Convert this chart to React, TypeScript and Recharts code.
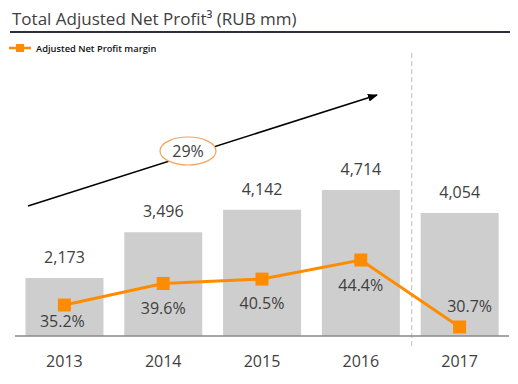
import {
  ComposedChart,
  Bar,
  Line,
  XAxis,
  YAxis,
  LabelList,
  ReferenceLine,
} from "recharts";

const years = ["2013", "2014", "2015", "2016", "2017"];
const netProfit = [2173, 3496, 4142, 4714, 4054];
const margin = [35.2, 39.6, 40.5, 44.4, 30.7];
const growthLabel = "29%";

// label nudges for the margin values (dx, dy from the marker centre)
const marginLabelShift = [
  [-2, 16],
  [0, 25],
  [0, 24],
  [0, 25],
  [10, -21],
];

const data = years.map((year, i) => ({
  year,
  profit: netProfit[i],
  margin: margin[i],
}));

const font = "'Open Sans', sans-serif";
const textColor = "#404040";
const orange = "#ff8c00";

const SquareDot = (props: any) => {
  const { cx, cy } = props;
  if (cx == null || cy == null) return null;
  return <rect x={cx - 6.5} y={cy - 6.5} width={13} height={13} fill={orange} />;
};

const MarginLabel = (props: any) => {
  const { x, y, value, index } = props;
  const [dx, dy] = marginLabelShift[index] || [0, 24];
  return (
    <text
      x={x + dx}
      y={y + dy}
      dy="0.36em"
      textAnchor="middle"
      fill={textColor}
      fontSize={16}
      fontFamily={font}
    >
      {`${Number(value).toFixed(1)}%`}
    </text>
  );
};

const DividerLine = (p: any) => {
  const top = Math.min(p.y1, p.y2);
  const bottom = Math.max(p.y1, p.y2);
  return (
    <line
      x1={p.x1 + 1.5}
      y1={top + 1}
      x2={p.x2 + 1.5}
      y2={bottom + 12}
      stroke="#c8c8c8"
      strokeWidth={1.2}
      strokeDasharray="5 3"
    />
  );
};

export default function App() {
  return (
    <div
      style={{
        position: "absolute",
        left: 0,
        top: 0,
        width: 518,
        height: 384,
        background: "#fff",
        fontFamily: font,
      }}
    >
      <div
        style={{
          position: "absolute",
          left: 12,
          top: 7,
          fontSize: 17,
          lineHeight: "24px",
          color: textColor,
          whiteSpace: "nowrap",
        }}
      >
        Total Adjusted Net Profit³ (RUB mm)
      </div>
      <div
        style={{
          position: "absolute",
          left: 10,
          top: 31,
          width: 500,
          height: 1.5,
          background: "#2e2e3a",
        }}
      />
      <div style={{ position: "absolute", left: 9, top: 41, height: 14, display: "flex", alignItems: "center" }}>
        <svg width={24} height={14}>
          <line x1={0} y1={7} x2={22} y2={7} stroke={orange} strokeWidth={2.5} />
          <rect x={7} y={3} width={8} height={8} fill={orange} />
        </svg>
        <span style={{ fontSize: 9.3, fontWeight: 600, color: "#111", marginLeft: 3, whiteSpace: "nowrap" }}>
          Adjusted Net Profit margin
        </span>
      </div>

      <ComposedChart
        width={518}
        height={384}
        data={data}
        margin={{ top: 52, right: 9, bottom: 8, left: 15 }}
        barCategoryGap="10.6%"
      >
        <XAxis
          dataKey="year"
          axisLine={{ stroke: "#888", strokeWidth: 1.5 }}
          tickLine={false}
          tickSize={0}
          tickMargin={20}
          height={40}
          tick={{ fill: textColor, fontSize: 16, fontFamily: font }}
        />
        <YAxis yAxisId="bar" hide domain={[500, 8700]} />
        <YAxis yAxisId="pct" hide orientation="right" domain={[28.86, 86.94]} />
        <Bar yAxisId="bar" dataKey="profit" fill="#cecece" isAnimationActive={false}>
          <LabelList
            dataKey="profit"
            position="top"
            offset={15}
            fill={textColor}
            fontSize={16}
            fontFamily={font}
            formatter={(v: any) => Number(v).toLocaleString("en-US")}
          />
        </Bar>
        <ReferenceLine
          yAxisId="bar"
          x="2017"
          position="start"
          ifOverflow="visible"
          shape={<DividerLine />}
        />
        <Line
          yAxisId="pct"
          dataKey="margin"
          stroke={orange}
          strokeWidth={3}
          dot={<SquareDot />}
          activeDot={false}
          isAnimationActive={false}
        >
          <LabelList dataKey="margin" content={<MarginLabel />} />
        </Line>
      </ComposedChart>

      <svg width={518} height={384} style={{ position: "absolute", left: 0, top: 0, pointerEvents: "none" }}>
        <defs>
          <marker id="arrowHead" markerWidth="10" markerHeight="8" refX="9" refY="4" orient="auto" markerUnits="userSpaceOnUse">
            <path d="M0,0 L10,4 L0,8 Z" fill="#000" />
          </marker>
        </defs>
        <line x1={28} y1={206} x2={377} y2={95} stroke="#000" strokeWidth={1.6} markerEnd="url(#arrowHead)" />
        <ellipse cx={188} cy={151} rx={28} ry={14} fill="#fff" stroke="#f5a25a" strokeWidth={1.2} />
        <text x={188} y={151} dy="0.36em" textAnchor="middle" fontSize={16} fill={textColor} fontFamily={font}>
          {growthLabel}
        </text>
      </svg>
    </div>
  );
}
